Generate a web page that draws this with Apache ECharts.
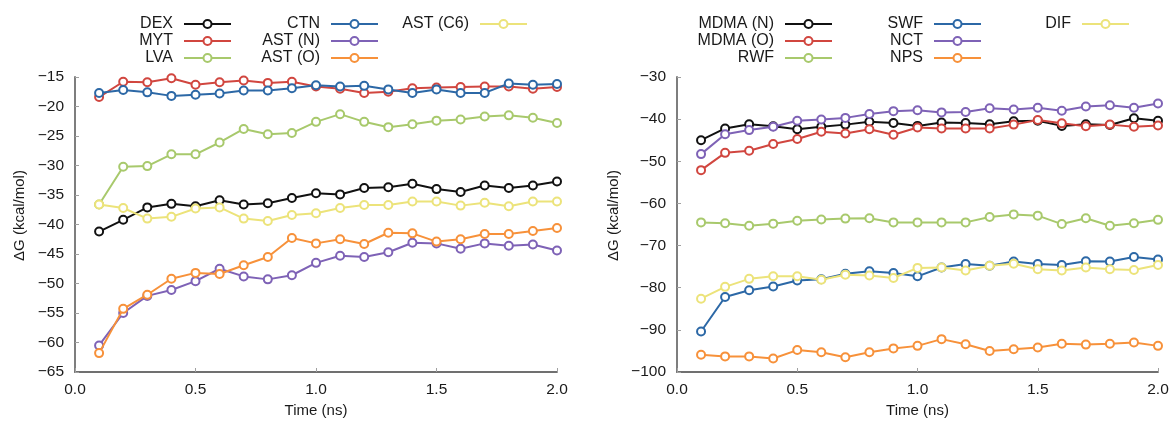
<!DOCTYPE html>
<html>
<head>
<meta charset="utf-8">
<script src="https://cdn.jsdelivr.net/npm/echarts@6/dist/echarts.min.js"></script>
<style>
  html, body { margin: 0; padding: 0; background: #fff; }
  #chart { width: 1173px; height: 423px; }
</style>
</head>
<body>
<div id="chart"></div>
<script>
// Simulation time (ns)
const times = [0.1, 0.2, 0.3, 0.4, 0.5, 0.6, 0.7, 0.8, 0.9, 1.0,
               1.1, 1.2, 1.3, 1.4, 1.5, 1.6, 1.7, 1.8, 1.9, 2.0];

// Left panel: binding free energy, kcal/mol
const DEX    = [-41.2, -39.2, -37.1, -36.5, -36.9, -35.9, -36.6, -36.4, -35.5, -34.7, -34.9, -33.8, -33.7, -33.1, -34.0, -34.5, -33.4, -33.8, -33.4, -32.7];
const MYT    = [-18.4, -15.8, -15.9, -15.2, -16.3, -15.9, -15.6, -16.0, -15.8, -16.6, -17.0, -17.7, -17.5, -16.9, -16.8, -16.7, -16.6, -16.6, -17.0, -16.7];
const LVA    = [-36.6, -30.2, -30.1, -28.1, -28.1, -26.1, -23.8, -24.7, -24.5, -22.6, -21.3, -22.6, -23.5, -23.0, -22.4, -22.2, -21.7, -21.5, -21.9, -22.8];
const CTN    = [-17.7, -17.2, -17.6, -18.2, -18.0, -17.8, -17.3, -17.3, -16.9, -16.4, -16.6, -16.5, -17.1, -17.7, -17.1, -17.7, -17.7, -16.1, -16.3, -16.2];
const AST_N  = [-60.5, -55.0, -52.1, -51.1, -49.6, -47.5, -48.8, -49.3, -48.6, -46.5, -45.3, -45.5, -44.7, -43.1, -43.2, -44.1, -43.2, -43.6, -43.4, -44.4];
const AST_O  = [-61.8, -54.3, -51.9, -49.2, -48.2, -48.4, -46.9, -45.5, -42.3, -43.2, -42.5, -43.3, -41.4, -41.5, -42.9, -42.5, -41.6, -41.6, -41.1, -40.6];
const AST_C6 = [-36.6, -37.2, -39.0, -38.7, -37.3, -37.1, -39.0, -39.4, -38.4, -38.1, -37.2, -36.7, -36.7, -36.1, -36.1, -36.8, -36.3, -36.9, -36.1, -36.1];

// Right panel: binding free energy, kcal/mol
const MDMA_N = [-45.0, -42.2, -41.2, -41.7, -42.4, -41.8, -41.3, -40.6, -40.9, -41.6, -40.8, -40.9, -41.2, -40.5, -40.4, -41.6, -41.2, -41.4, -39.8, -40.4];
const MDMA_O = [-52.1, -48.0, -47.5, -45.9, -44.7, -43.0, -43.4, -42.4, -43.7, -42.0, -42.2, -42.2, -42.2, -41.3, -40.2, -41.0, -41.7, -41.3, -41.8, -41.5];
const RWF    = [-64.5, -64.7, -65.3, -64.8, -64.1, -63.8, -63.6, -63.5, -64.5, -64.5, -64.5, -64.5, -63.2, -62.6, -62.9, -64.9, -63.5, -65.3, -64.7, -63.9];
const SWF    = [-90.4, -82.2, -80.6, -79.7, -78.3, -78.0, -76.7, -76.1, -76.5, -77.3, -75.2, -74.4, -74.8, -73.8, -74.4, -74.6, -73.7, -73.8, -72.7, -73.3];
const NCT    = [-48.3, -43.6, -42.6, -41.8, -40.4, -40.1, -39.7, -38.8, -38.1, -37.9, -38.4, -38.3, -37.4, -37.7, -37.3, -38.0, -37.0, -36.7, -37.3, -36.3];
const NPS    = [-95.9, -96.3, -96.3, -96.8, -94.8, -95.3, -96.5, -95.3, -94.4, -93.8, -92.2, -93.4, -95.0, -94.6, -94.2, -93.3, -93.5, -93.3, -93.0, -93.8];
const DIF    = [-82.6, -79.8, -77.9, -77.3, -77.3, -78.1, -76.9, -77.1, -77.7, -75.3, -75.2, -75.9, -74.8, -74.3, -75.6, -75.9, -75.2, -75.6, -75.8, -74.6];

const leftNames  = ['DEX', 'MYT', 'LVA', 'CTN', 'AST (N)', 'AST (O)', 'AST (C6)'];
const leftData   = [DEX, MYT, LVA, CTN, AST_N, AST_O, AST_C6];
const rightNames = ['MDMA (N)', 'MDMA (O)', 'RWF', 'SWF', 'NCT', 'NPS', 'DIF'];
const rightData  = [MDMA_N, MDMA_O, RWF, SWF, NCT, NPS, DIF];

// Axis ticks
const xTicks = { min: 0, max: 2.0, interval: 0.5 };
const yTicksLeft  = { min: -65, max: -15, interval: 5 };
const yTicksRight = { min: -100, max: -30, interval: 10 };

const palette = ['#111111', '#d1463f', '#a8c96c', '#2c68a6', '#7e62b6', '#f7913a', '#ece37a'];

const FONT = 'Liberation Sans, Arial, Helvetica, sans-serif';
const TEXT = '#1a1a1a';
const AXIS = '#707070';
const TICK = '#a0a0a0';
const minus = s => String(s).replace('-', '\u2212');

function makeSeries(names, data, idx) {
  return names.map((name, i) => ({
    name,
    type: 'line',
    xAxisIndex: idx,
    yAxisIndex: idx,
    data: times.map((t, k) => [t, data[i][k]]),
    symbol: 'emptyCircle',
    symbolSize: 8,
    color: palette[i],
    lineStyle: { width: 2, color: palette[i] },
    itemStyle: { color: palette[i], borderWidth: 1.8 },
    emphasis: { disabled: true },
    z: 2 + i
  }));
}

function makeLegend(names, right, top) {
  return {
    orient: 'vertical',
    align: 'right',
    right,
    top,
    padding: 0,
    itemWidth: 47,
    itemHeight: 10,
    itemGap: 1,
    data: names,
    selectedMode: false,
    textStyle: { fontFamily: FONT, fontSize: 16, color: TEXT, padding: [0, 6, 0, 0] }
  };
}

function makeX(gridIndex) {
  return {
    type: 'value',
    gridIndex,
    min: xTicks.min, max: xTicks.max, interval: xTicks.interval,
    name: 'Time (ns)',
    nameLocation: 'middle',
    nameGap: 29,
    nameTextStyle: { fontFamily: FONT, fontSize: 15, color: TEXT },
    axisLine: { show: true, onZero: false, lineStyle: { color: AXIS, width: 1.8 } },
    axisTick: { show: true, inside: true, length: 4, lineStyle: { color: TICK, width: 1 } },
    axisLabel: { margin: 10, fontFamily: FONT, fontSize: 15.5, color: TEXT, formatter: v => v.toFixed(1) },
    splitLine: { show: false }
  };
}

function makeY(gridIndex, ticks, gap) {
  return {
    type: 'value',
    gridIndex,
    min: ticks.min, max: ticks.max, interval: ticks.interval,
    name: '\u0394G (kcal/mol)',
    nameLocation: 'middle',
    nameGap: gap,
    nameTextStyle: { fontFamily: FONT, fontSize: 15, color: TEXT, padding: [0, 0, 0, 18] },
    axisLine: { show: true, onZero: false, lineStyle: { color: AXIS, width: 1.8 } },
    axisTick: { show: true, inside: true, length: 4, lineStyle: { color: TICK, width: 1 } },
    axisLabel: { margin: 11, fontFamily: FONT, fontSize: 15.5, color: TEXT, formatter: v => minus(v) },
    splitLine: { show: false }
  };
}

const chart = echarts.init(document.getElementById('chart'), null, { renderer: 'canvas' });
chart.setOption({
  animation: false,
  backgroundColor: '#ffffff',
  textStyle: { fontFamily: FONT },
  grid: [
    { left: 75, right: 616, top: 77, bottom: 51 },
    { left: 677, right: 15, top: 77, bottom: 51 }
  ],
  legend: [
    makeLegend(leftNames.slice(0, 3), 941, 16),
    makeLegend(leftNames.slice(3, 6), 794, 16),
    makeLegend(leftNames.slice(6), 645, 16),
    makeLegend(rightNames.slice(0, 3), 340, 16),
    makeLegend(rightNames.slice(3, 6), 191, 16),
    makeLegend(rightNames.slice(6), 43, 16)
  ],
  xAxis: [makeX(0), makeX(1)],
  yAxis: [makeY(0, yTicksLeft, 48), makeY(1, yTicksRight, 56)],
  series: makeSeries(leftNames, leftData, 0).concat(makeSeries(rightNames, rightData, 1))
});
</script>
</body>
</html>
